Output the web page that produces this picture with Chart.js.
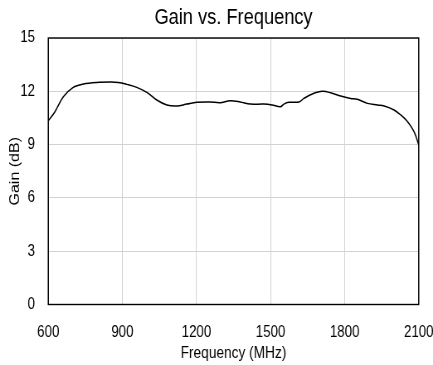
<!DOCTYPE html>
<html>
<head>
<meta charset="utf-8">
<script src="https://cdn.jsdelivr.net/npm/chart.js@4"></script>
<style>
  html, body { margin: 0; padding: 0; background: #fff; overflow: hidden; }
  /* the reference is a horizontally squeezed render, so draw wide and squeeze */
  #wrap { width: 522px; height: 365px; transform: scaleX(0.8295); transform-origin: 0 0; }
</style>
</head>
<body>
<div id="wrap"><canvas id="gainChart"></canvas></div>
<script>
// Data
const freqMHz = [600, 627, 661, 701, 742, 796, 850, 884, 918, 958, 999, 1039, 1080, 1120, 1161,
  1201, 1255, 1296, 1336, 1377, 1418, 1472, 1506, 1540, 1554, 1574, 1615, 1635, 1669, 1710,
  1743, 1784, 1824, 1851, 1892, 1933, 1960, 2000, 2028, 2055, 2081, 2100];
const gainDb = [10.34, 10.85, 11.69, 12.22, 12.41, 12.5, 12.52, 12.5, 12.39, 12.22, 11.94, 11.51, 11.23, 11.17, 11.28,
  11.38, 11.4, 11.36, 11.47, 11.4, 11.28, 11.28, 11.23, 11.13, 11.28, 11.38, 11.4, 11.6, 11.85, 12.0,
  11.92, 11.73, 11.6, 11.55, 11.32, 11.23, 11.17, 10.95, 10.66, 10.29, 9.73, 8.98];
const xTicks = [600, 900, 1200, 1500, 1800, 2100];
const yTicks = [0, 3, 6, 9, 12, 15];

const FONT = "'Liberation Sans', Arial, sans-serif";

// Frame around the plot area
const frame = {
  id: "frame",
  afterDraw(chart) {
    const a = chart.chartArea;
    const ctx = chart.ctx;
    ctx.save();
    ctx.strokeStyle = "#000";
    ctx.lineWidth = 1.4;
    ctx.strokeRect(a.left, a.top, a.right - a.left, a.bottom - a.top);
    ctx.restore();
  },
};

new Chart(document.getElementById("gainChart"), {
  type: "line",
  data: {
    datasets: [
      {
        data: freqMHz.map((f, i) => ({ x: f, y: gainDb[i] })),
        borderColor: "#000",
        borderWidth: 1.5,
        pointRadius: 0,
        tension: 0.35,
        fill: false,
      },
    ],
  },
  options: {
    responsive: true,
    maintainAspectRatio: false,
    animation: false,
    layout: { padding: { left: 0, right: 17.2, top: 0, bottom: 0 } },
    plugins: {
      legend: { display: false },
      tooltip: { enabled: false },
      title: {
        display: true,
        fullSize: false, // centre over the plot area
        text: "Gain vs. Frequency",
        color: "#000",
        font: { family: FONT, size: 22, weight: "normal" },
        padding: { top: 5, bottom: 6.6 },
      },
    },
    scales: {
      x: {
        type: "linear",
        min: 600,
        max: 2100,
        afterBuildTicks: (s) => { s.ticks = xTicks.map((v) => ({ value: v })); },
        afterFit: (s) => {
          s.height = 60.5;
          s.paddingLeft = 0;
          s.paddingRight = 0;
        },
        grid: { color: "#d2d2d2", drawTicks: false },
        border: { color: "#000" },
        ticks: {
          color: "#000",
          padding: 18.4,
          maxRotation: 0,
          font: { family: FONT, size: 16 },
          callback: (v) => String(v),
        },
        title: {
          display: true,
          text: "Frequency (MHz)",
          color: "#000",
          font: { family: FONT, size: 16.5 },
          padding: { top: 2, bottom: 1.6 },
        },
      },
      y: {
        min: 0,
        max: 15,
        afterBuildTicks: (s) => { s.ticks = yTicks.map((v) => ({ value: v })); },
        afterFit: (s) => { s.width = 58.2; },
        grid: { color: "#d2d2d2", drawTicks: false },
        border: { color: "#000" },
        ticks: {
          color: "#000",
          padding: 16,
          font: { family: FONT, size: 16 },
          callback: (v) => String(v),
        },
        title: {
          display: true,
          text: "Gain (dB)",
          color: "#000",
          font: { family: FONT, size: 16 },
          padding: { top: 8.5, bottom: 0 },
        },
      },
    },
  },
  plugins: [frame],
});
</script>
</body>
</html>
